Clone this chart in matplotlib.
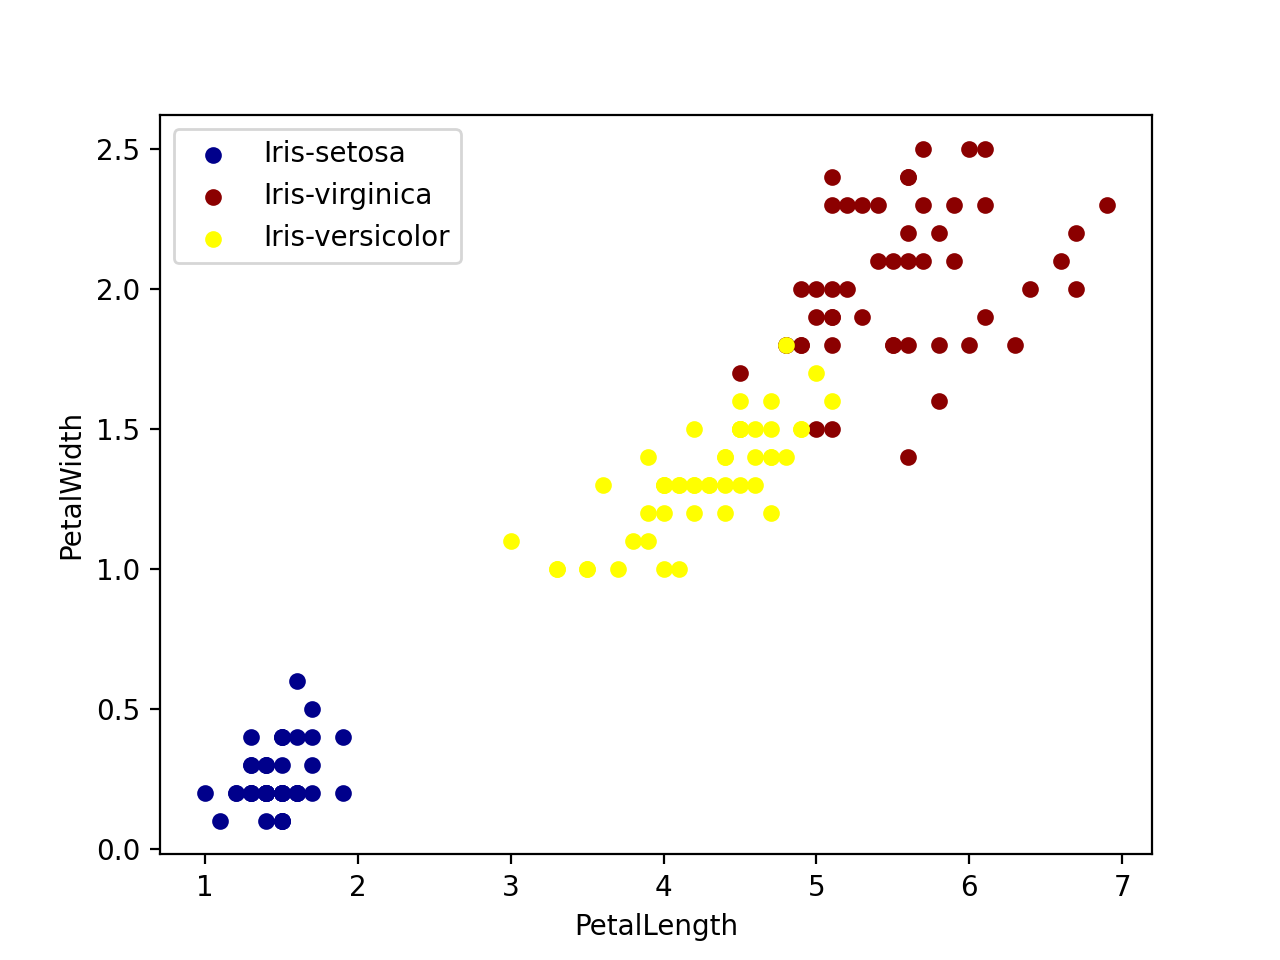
import matplotlib
matplotlib.use('Agg')
import matplotlib.pyplot as plt

setosa_len = [1.4, 1.4, 1.3, 1.5, 1.4, 1.7, 1.4, 1.5, 1.4, 1.5, 1.5, 1.6, 1.4, 1.1, 1.2, 1.5, 1.3, 1.4, 1.7, 1.5,
              1.7, 1.5, 1.0, 1.7, 1.9, 1.6, 1.6, 1.5, 1.4, 1.6, 1.6, 1.5, 1.5, 1.4, 1.5, 1.2, 1.3, 1.5, 1.3, 1.5,
              1.3, 1.3, 1.3, 1.6, 1.9, 1.4, 1.6, 1.4, 1.5, 1.4]
setosa_wid = [0.2, 0.2, 0.2, 0.2, 0.2, 0.4, 0.3, 0.2, 0.2, 0.1, 0.2, 0.2, 0.1, 0.1, 0.2, 0.4, 0.4, 0.3, 0.3, 0.3,
              0.2, 0.4, 0.2, 0.5, 0.2, 0.2, 0.4, 0.2, 0.2, 0.2, 0.2, 0.4, 0.1, 0.2, 0.1, 0.2, 0.2, 0.1, 0.2, 0.2,
              0.3, 0.3, 0.2, 0.6, 0.4, 0.3, 0.2, 0.2, 0.2, 0.2]

versicolor_len = [4.7, 4.5, 4.9, 4.0, 4.6, 4.5, 4.7, 3.3, 4.6, 3.9, 3.5, 4.2, 4.0, 4.7, 3.6, 4.4, 4.5, 4.1, 4.5, 3.9,
                  4.8, 4.0, 4.9, 4.7, 4.3, 4.4, 4.8, 5.0, 4.5, 3.5, 3.8, 3.7, 3.9, 5.1, 4.5, 4.5, 4.7, 4.4, 4.1, 4.0,
                  4.4, 4.6, 4.0, 3.3, 4.2, 4.2, 4.2, 4.3, 3.0, 4.1]
versicolor_wid = [1.4, 1.5, 1.5, 1.3, 1.5, 1.3, 1.6, 1.0, 1.3, 1.4, 1.0, 1.5, 1.0, 1.4, 1.3, 1.4, 1.5, 1.0, 1.5, 1.1,
                  1.8, 1.3, 1.5, 1.2, 1.3, 1.4, 1.4, 1.7, 1.5, 1.0, 1.1, 1.0, 1.2, 1.6, 1.5, 1.6, 1.5, 1.3, 1.3, 1.3,
                  1.2, 1.4, 1.2, 1.0, 1.3, 1.2, 1.3, 1.3, 1.1, 1.3]

virginica_len = [6.0, 5.1, 5.9, 5.6, 5.8, 6.6, 4.5, 6.3, 5.8, 6.1, 5.1, 5.3, 5.5, 5.0, 5.1, 5.3, 5.5, 6.7, 6.9, 5.0,
                 5.7, 4.9, 6.7, 4.9, 5.7, 6.0, 4.8, 4.9, 5.6, 5.8, 6.1, 6.4, 5.6, 5.1, 5.6, 6.1, 5.6, 5.5, 4.8, 5.4,
                 5.6, 5.1, 5.1, 5.9, 5.7, 5.2, 5.0, 5.2, 5.4, 5.1]
virginica_wid = [2.5, 1.9, 2.1, 1.8, 2.2, 2.1, 1.7, 1.8, 1.8, 2.5, 2.0, 1.9, 2.1, 2.0, 2.4, 2.3, 1.8, 2.2, 2.3, 1.5,
                 2.3, 2.0, 2.0, 1.8, 2.1, 1.8, 1.8, 1.8, 2.1, 1.6, 1.9, 2.0, 2.2, 1.5, 1.4, 2.3, 2.4, 1.8, 1.8, 2.1,
                 2.4, 2.3, 1.9, 2.3, 2.5, 2.3, 1.9, 2.0, 2.3, 1.8]

plt.figure(figsize=(6.4, 4.8), dpi=200)
plt.scatter(setosa_len, setosa_wid, color='darkblue', s=25, label='Iris-setosa')
plt.scatter(virginica_len, virginica_wid, color='darkred', s=25, label='Iris-virginica')
plt.scatter(versicolor_len, versicolor_wid, color='yellow', s=25, label='Iris-versicolor')
plt.xlabel('PetalLength')
plt.ylabel('PetalWidth')
plt.legend(loc='upper left')
plt.savefig('out.png', dpi=200)
